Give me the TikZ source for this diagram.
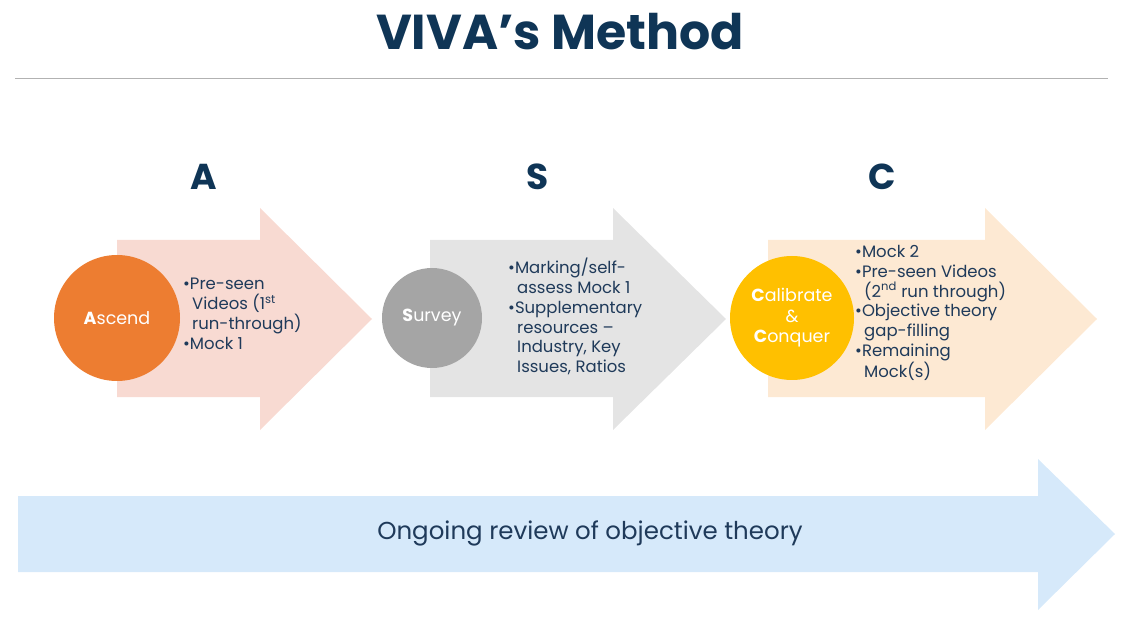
\documentclass[tikz,border=0pt]{standalone}
\usepackage{fontspec}
\setmainfont{Poppins}
\definecolor{navy}{HTML}{0F3556}
\definecolor{txt}{HTML}{1F3A5A}
\begin{document}
\begin{tikzpicture}[x=1pt,y=-1pt,
  bul/.style={anchor=north west,align=left,font=\fontsize{16.5}{19.8}\selectfont,text=txt,inner sep=0pt},
  lett/.style={font=\fontsize{36}{36}\selectfont\bfseries,text=navy},
  circ/.style={circle,text=white,font=\fontsize{17.5}{20.5}\selectfont,align=center}]
\useasboundingbox (0,0) rectangle (1125,620);
\node[font=\fontsize{49}{49}\selectfont\bfseries,text=navy] (title) at (560,32) {VIVA’s Method};
\draw[gray!60] (15,78) -- (1108,78);
\fill[fill={rgb,255:red,248;green,218;blue,210}] (117,240) -- (260,240) -- (260,208) -- (372,319) -- (260,430) -- (260,397) -- (117,397) -- cycle;
\fill[fill={rgb,255:red,228;green,228;blue,228}] (430,240) -- (613,240) -- (613,208) -- (726,319) -- (613,430) -- (613,397) -- (430,397) -- cycle;
\fill[fill={rgb,255:red,253;green,233;blue,211}] (768,240) -- (985,240) -- (985,208) -- (1097,319) -- (985,430) -- (985,397) -- (768,397) -- cycle;
\fill[fill={rgb,255:red,214;green,233;blue,250}] (18,496) -- (1038,496) -- (1038,459) -- (1115,534) -- (1038,610) -- (1038,572) -- (18,572) -- cycle;
\node[lett] (la) at (204,177) {A};
\node[lett] (ls) at (538,177) {S};
\node[lett] (lc) at (882,177) {C};
\node[circ,fill={rgb,255:red,237;green,125;blue,49},minimum size=126pt] (ca) at (117,318) {\textbf{A}scend};
\node[circ,fill={rgb,255:red,165;green,165;blue,165},minimum size=100pt] (cs) at (432,318) {\textbf{S}urvey};
\node[circ,fill={rgb,255:red,255;green,192;blue,0},minimum size=124pt] (cc) at (792,318) {\textbf{C}alibrate\\\&\\\textbf{C}onquer};
\node[bul] (ba) at (183,278) {•Pre-seen\\\hspace{9pt}Videos (1\textsuperscript{st}\\\hspace{9pt}run-through)\\•Mock 1};
\node[bul] (bs) at (508,258) {•Marking/self-\\\hspace{9pt}assess Mock 1\\•Supplementary\\\hspace{9pt}resources –\\\hspace{9pt}Industry, Key\\\hspace{9pt}Issues, Ratios};
\node[bul] (bc) at (855,245) {•Mock 2\\•Pre-seen Videos\\\hspace{9pt}(2\textsuperscript{nd} run through)\\•Objective theory\\\hspace{9pt}gap-filling\\•Remaining\\\hspace{9pt}Mock(s)};
\node[font=\fontsize{24.5}{28}\selectfont,text=txt] (rv) at (590,533) {Ongoing review of objective theory};
\end{tikzpicture}
\end{document}
